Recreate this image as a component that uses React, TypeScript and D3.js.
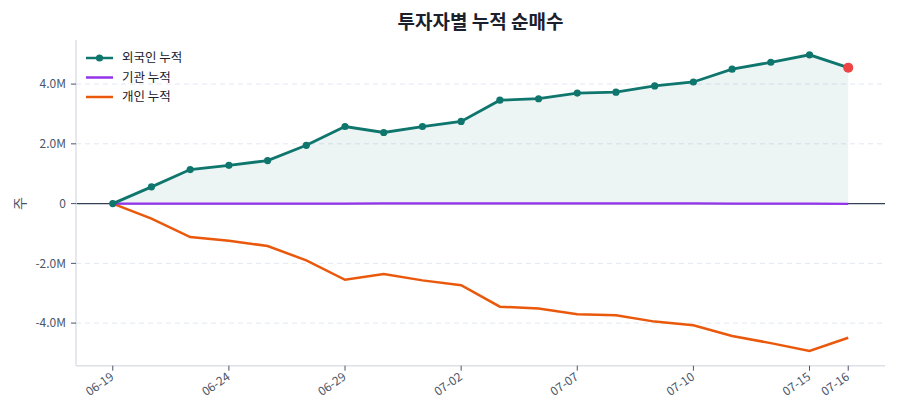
import React from 'react';
import * as d3 from 'd3';

// trading days (x axis is by index, not by calendar)
const dates = [
  '06-19', '06-20', '06-23', '06-24', '06-25', '06-26', '06-29', '06-30', '07-01', '07-02',
  '07-03', '07-06', '07-07', '07-08', '07-09', '07-10', '07-13', '07-14', '07-15', '07-16',
];
const tickIdx = [0, 3, 6, 9, 12, 15, 18, 19];
const yTicks = [-4000000, -2000000, 0, 2000000, 4000000];

// cumulative net buying, shares (millions)
const foreign = [0, 0.56, 1.14, 1.28, 1.44, 1.95, 2.58, 2.38, 2.58, 2.75,
  3.46, 3.51, 3.70, 3.73, 3.94, 4.07, 4.50, 4.73, 4.98, 4.55].map(v => v * 1e6);
const institution = [0, 0.0, 0.0, 0.0, 0.0, 0.0, 0.0, 0.01, 0.01, 0.01,
  0.01, 0.01, 0.01, 0.01, 0.01, 0.01, 0.0, 0.0, 0.0, -0.01].map(v => v * 1e6);
const individual = [0, -0.5, -1.12, -1.24, -1.42, -1.9, -2.55, -2.36, -2.57, -2.73,
  -3.45, -3.51, -3.70, -3.74, -3.95, -4.07, -4.43, -4.67, -4.93, -4.49].map(v => v * 1e6);

const seriesNames = ['외국인 누적', '기관 누적', '개인 누적'];
const colors = ['#0f766e', '#9333ea', '#ea580c'];

const W = 900;
const H = 420;
const left = 76, right = 885, top = 40, bottom = 365.7;
const FONT = '"Noto Sans CJK KR", "Noto Sans", sans-serif';

const fmt = (v: number) => (v === 0 ? '0' : `${(v / 1e6).toFixed(1)}M`);

export default function App() {
  const n = dates.length;
  const pad = (n - 1) * 0.05;
  const x = d3.scaleLinear().domain([-pad, n - 1 + pad]).range([left, right]);
  const yMin = d3.min(individual)!, yMax = d3.max(foreign)!;
  const m = (yMax - yMin) * 0.05;
  const y = d3.scaleLinear().domain([yMin - m, yMax + m]).range([bottom, top]);

  const line = d3.line<number>().x((_, i) => x(i)).y(d => y(d));
  const area = d3.area<number>().x((_, i) => x(i)).y0(y(0)).y1(d => y(d));
  const last = n - 1;

  return (
    <svg width={W} height={H} style={{ position: 'absolute', left: 0, top: 0, fontFamily: FONT }}>
      <rect width={W} height={H} fill="#fff" />
      <text x={(left + right) / 2} y={29} textAnchor="middle" fontSize={19} fontWeight="bold" fill="#1a202c">
        투자자별 누적 순매수
      </text>

      {/* grid */}
      {yTicks.filter(t => t !== 0).map(t => (
        <line key={t} x1={left} x2={right} y1={y(t)} y2={y(t)} stroke="#e2e8f0" strokeDasharray="5,4" strokeWidth={1} />
      ))}

      {/* area + lines */}
      <path d={area(foreign)!} fill="#0f766e" fillOpacity={0.08} />
      <line x1={left} x2={right} y1={y(0)} y2={y(0)} stroke="#334155" strokeWidth={1.2} />
      <path d={line(individual)!} fill="none" stroke={colors[2]} strokeWidth={2.5} />
      <path d={line(institution)!} fill="none" stroke={colors[1]} strokeWidth={2.2} />
      <path d={line(foreign)!} fill="none" stroke={colors[0]} strokeWidth={2.8} />
      {foreign.slice(0, last).map((d, i) => (
        <circle key={i} cx={x(i)} cy={y(d)} r={3.6} fill={colors[0]} />
      ))}
      <circle cx={x(last)} cy={y(foreign[last])} r={5} fill="#ef4444" />

      {/* spines */}
      <line x1={left} x2={left} y1={top} y2={bottom} stroke="#dde1e7" strokeWidth={1.5} />
      <line x1={left} x2={right} y1={bottom} y2={bottom} stroke="#dde1e7" strokeWidth={1.5} />

      {/* y axis */}
      {yTicks.map(t => (
        <g key={t}>
          <line x1={left - 5} x2={left} y1={y(t)} y2={y(t)} stroke="#4a5568" strokeWidth={1} />
          <text x={left - 10} y={y(t)} dy="0.35em" textAnchor="end" fontSize={12} fill="#4a5568">{fmt(t)}</text>
        </g>
      ))}
      <text transform={`translate(25,${y(0)}) rotate(-90)`} textAnchor="middle" fontSize={14} fill="#4a5568">주</text>

      {/* x axis */}
      {tickIdx.map(i => (
        <g key={i}>
          <line x1={x(i)} x2={x(i)} y1={bottom} y2={bottom + 5} stroke="#4a5568" strokeWidth={1} />
          <text transform={`translate(${x(i) + 2},${bottom + 13}) rotate(-35)`} textAnchor="end" fontSize={12} fill="#4a5568">
            {dates[i]}
          </text>
        </g>
      ))}

      {/* legend */}
      {seriesNames.map((s, i) => (
        <g key={s} transform={`translate(86,${58 + i * 19.5})`}>
          <line x1={0} x2={27} y1={0} y2={0} stroke={colors[i]} strokeWidth={2.5} />
          {i === 0 && <circle cx={13.5} cy={0} r={3.6} fill={colors[0]} />}
          <text x={36} y={0} dy="0.35em" fontSize={12.5} fill="#1a202c">{s}</text>
        </g>
      ))}
    </svg>
  );
}
